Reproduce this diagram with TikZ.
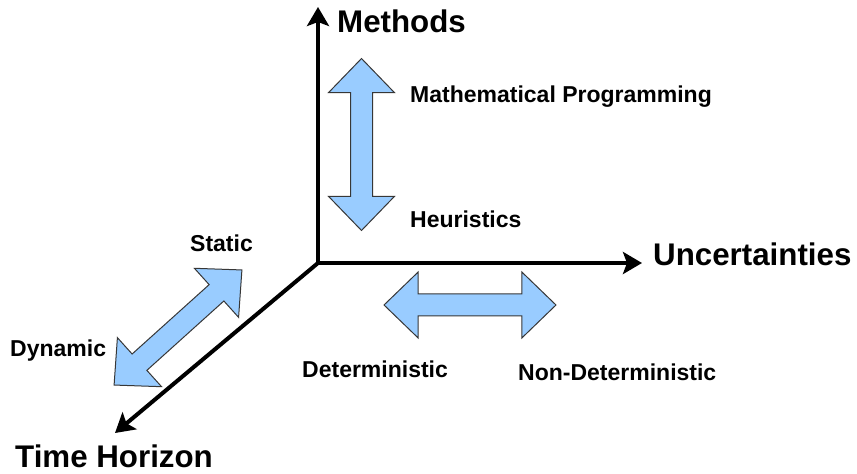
\documentclass[tikz,border=0pt]{standalone}
\usepackage{fontspec}
\setmainfont{Liberation Sans}
\usetikzlibrary{arrows.meta,shapes.arrows}
\definecolor{rangeblue}{RGB}{153,204,255}
\definecolor{rangeedge}{RGB}{55,55,55}
\begin{document}
\begin{tikzpicture}[x=1pt,y=1pt,
    axis/.style={line width=4pt,line cap=rect,-{Stealth[length=19pt,width=22pt,inset=4pt]}},
    rangearrow/.style={double arrow,draw=rangeedge,fill=rangeblue,line width=1pt,
      inner xsep=0pt,inner ysep=10.5pt,
      minimum height=172pt,minimum width=65pt,double arrow head extend=22pt,double arrow tip angle=88},
    axislabel/.style={font=\fontsize{31.3}{37}\selectfont\bfseries,anchor=base west,inner sep=0pt},
    rangelabel/.style={font=\fontsize{23}{28}\selectfont\bfseries,anchor=base west,inner sep=0pt}]
  \useasboundingbox (0,0) rectangle (857,474);
  % axes
  \coordinate (O) at (318,211);
  \coordinate (methodsend) at (318,467);
  \coordinate (uncertend) at (642,211);
  \coordinate (timeend) at (115,41);
  \draw[axis] (O) -- (methodsend);
  \draw[axis] (O) -- (uncertend);
  \draw[axis] (O) -- (timeend);
  % ranges
  \node[rangearrow,rotate=90] (methodsrange) at (361.5,329.5) {};
  \node[rangearrow] (uncertrange) at (470,169) {};
  \node[rangearrow,rotate=42] (timerange) at (178,146.5) {};
  % labels
  \node[axislabel] (methods) at (337,441) {Methods};
  \node[axislabel] (uncert) at (653,208) {Uncertainties};
  \node[axislabel] (time) at (15,6) {Time Horizon};
  \node[rangelabel] (math) at (410,371) {Mathematical Programming};
  \node[rangelabel] (heur) at (410,246) {Heuristics};
  \node[rangelabel] (static) at (190,222) {Static};
  \node[rangelabel] (dynamic) at (10,117) {Dynamic};
  \node[rangelabel] (determ) at (302,96) {Deterministic};
  \node[rangelabel] (nondeterm) at (518,93) {Non-Deterministic};
\end{tikzpicture}
\end{document}
